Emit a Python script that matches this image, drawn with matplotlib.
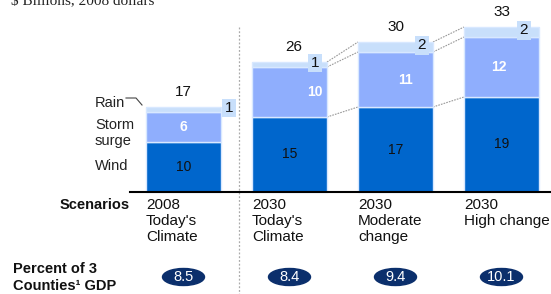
import matplotlib.pyplot as plt
from matplotlib.patches import Ellipse

plt.rcParams['font.family'] = ['Liberation Sans', 'DejaVu Sans']

scenarios = ["2008\nToday's\nClimate", "2030\nToday's\nClimate",
             "2030\nModerate\nchange", "2030\nHigh change"]
wind = [10, 15, 17, 19]
storm = [6, 10, 11, 12]
rain = [1, 1, 2, 2]
totals = [17, 26, 30, 33]
gdp = ['8.5', '8.4', '9.4', '10.1']

c_wind = '#0066CC'
c_storm = '#8FAEFD'
c_rain = '#C8DFFB'
c_edge = '#D8E8FF'
c_navy = '#0B2F6C'

W, H = 551, 294
fig = plt.figure(figsize=(W / 100, H / 100), dpi=100)
ax = fig.add_axes([0, 0, 1, 1])

# layout: bar centre spacing 106 px, 5 px per $bn, baseline at 192 px
x0, step, base, scale = 183.5, 106.0, 192.0, 5.0


def px(x):
    return (x - x0) / step


def py(y):
    return (base - y) / scale


ax.set_xlim(px(0), px(W))
ax.set_ylim(py(H), py(0))
ax.axis('off')

xs = list(range(len(wind)))
bw = 75 / step
bot2 = [a + b for a, b in zip(wind, storm)]
ax.bar(xs, wind, bw, color=c_wind, edgecolor=c_edge, linewidth=1, zorder=3)
ax.bar(xs, storm, bw, bottom=wind, color=c_storm, edgecolor=c_edge, linewidth=1, zorder=3)
ax.bar(xs, rain, bw, bottom=bot2, color=c_rain, edgecolor=c_edge, linewidth=1, zorder=3)

# dotted connectors between the 2030 bars
for i in range(1, len(xs) - 1):
    for lv in (wind, bot2, totals):
        ax.plot([xs[i] + bw / 2, xs[i + 1] - bw / 2], [lv[i], lv[i + 1]],
                color='#999999', lw=0.8, ls=(0, (1.5, 1)), zorder=2)

# baseline and separator
ax.plot([px(130), px(W)], [0, 0], color='black', lw=1.5, zorder=4)
ax.plot([px(239), px(239)], [py(27), py(H)], color='#aaaaaa', lw=0.9,
        ls=(0, (1.5, 1.5)), zorder=1)

# value labels
storm_dx = [0, 25, 10, -3]
box_x = [229, 315, 422, 524]
for i in xs:
    ax.text(xs[i], wind[i] / 2, str(wind[i]), ha='center', va='center',
            fontsize=10, color='#111111', zorder=5)
    ax.text(xs[i] + storm_dx[i] / step, wind[i] + storm[i] / 2, str(storm[i]),
            ha='center', va='center', fontsize=10, color='white',
            fontweight='bold', zorder=5)
    ax.text(px(box_x[i]), bot2[i] + rain[i] / 2 + 0.3, str(rain[i]),
            ha='center', va='center', fontsize=11, color='#111111', zorder=6,
            bbox=dict(boxstyle='square,pad=0.15', fc=c_rain, ec='none'))
    ax.text(xs[i] + (4 / step if i == 1 else 0), totals[i] + 3, str(totals[i]),
            ha='center', va='center', fontsize=11, color='#111111')
    ax.text(xs[i] - bw / 2, py(198), scenarios[i], ha='left', va='top',
            fontsize=11, color='#111111', linespacing=1.2)
    ax.add_patch(Ellipse((xs[i], py(277)), 42 / step, 17 / scale,
                         color=c_navy, zorder=5))
    ax.text(xs[i], py(277), gdp[i], ha='center', va='center', fontsize=10.5,
            color='white', zorder=6)

# segment names
ax.text(px(95), py(103), 'Rain', ha='left', va='center', fontsize=10.5, color='#222222')
ax.plot([px(126), px(136), px(142)], [py(98), py(98), py(105)],
        color='#444444', lw=0.8)
ax.text(px(95), py(133), 'Storm\nsurge', ha='left', va='center', fontsize=10.5,
        color='#222222', linespacing=1.25)
ax.text(px(95), py(166), 'Wind', ha='left', va='center', fontsize=10.5, color='#222222')

ax.text(px(130), py(198), 'Scenarios', ha='right', va='top', fontsize=10.5,
        fontweight='bold', color='#111111')
ax.text(px(13), py(262), 'Percent of 3\nCounties¹ GDP', ha='left', va='top',
        fontsize=10.5, fontweight='bold', color='#111111', linespacing=1.25)

ax.text(px(11), py(4), '$ Billions, 2008 dollars', ha='left', va='baseline',
        fontsize=11, family=['Liberation Serif', 'DejaVu Serif'], color='#222222')

fig.savefig('out.png', dpi=100)
